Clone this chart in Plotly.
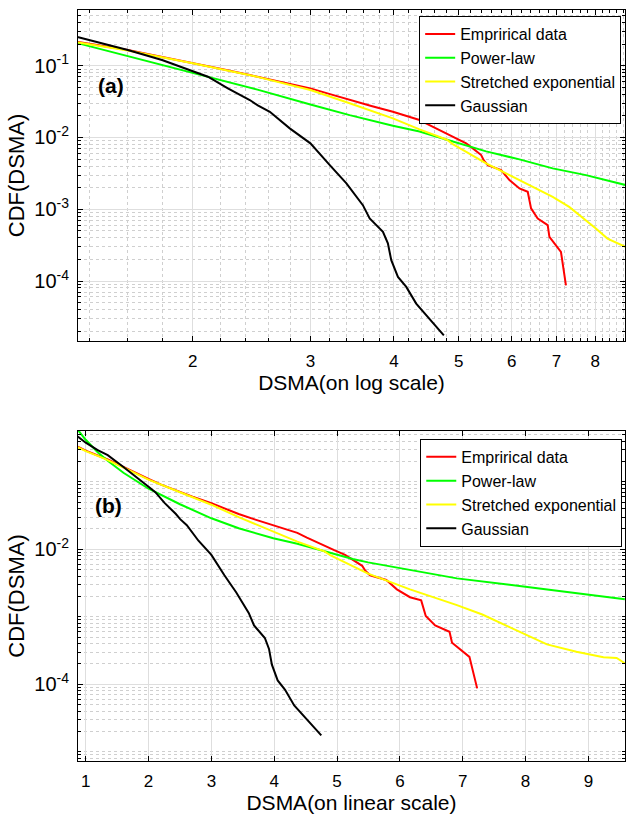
import numpy as np
import plotly.graph_objects as go
from plotly.subplots import make_subplots

# ---- data: complementary CDF of DSMA and fitted models ----
x_emp = [0.873, 1.0, 1.19, 1.35, 1.60, 1.80, 2.0, 2.2, 2.435, 2.7, 3.0, 3.2, 3.434,
         3.7, 3.985, 4.2, 4.368, 4.52, 4.733, 4.955, 5.128, 5.248, 5.40, 5.45, 5.525,
         5.784, 5.952, 6.161, 6.339, 6.412, 6.561, 6.79, 6.83, 7.107, 7.23]
y_emp = [0.331, 0.289, 0.245, 0.214, 0.166, 0.134, 0.110, 0.091, 0.0741, 0.060, 0.0483,
         0.0405, 0.0333, 0.0275, 0.0228, 0.0197, 0.0175, 0.0149, 0.0120, 0.0097, 0.00828,
         0.00705, 0.00569, 0.0048, 0.00412, 0.00351, 0.00255, 0.00195, 0.00175, 0.00103,
         0.000744, 0.00060, 0.000412, 0.000255, 0.000087]

x_pl = [0.873, 1.0, 1.19, 1.35, 1.6, 1.8, 2.0, 2.5, 3.0, 3.434, 3.985, 4.368, 4.8,
        5.25, 5.494, 6.161, 6.908, 7.745, 8.89, 9.58]
y_pl = [0.59, 0.42, 0.275, 0.205, 0.136, 0.103, 0.079, 0.0465, 0.0288, 0.0205, 0.0146,
        0.0121, 0.0093, 0.0072, 0.0064, 0.00495, 0.00371, 0.00299, 0.00217, 0.00182]

x_se = [0.873, 1.0, 1.19, 1.35, 1.6, 1.8, 2.0, 2.5, 3.0, 3.434, 3.985, 4.368, 4.8,
        4.898, 5.494, 6.161, 6.908, 7.312, 7.745, 8.015, 8.341, 8.81, 9.03, 9.24,
        9.45, 9.58]
y_se = [0.325, 0.285, 0.242, 0.21, 0.163, 0.132, 0.108, 0.070, 0.0458, 0.030, 0.01846,
        0.01297, 0.0093, 0.0081, 0.00435, 0.00255, 0.00149, 0.00108, 0.000705, 0.00054,
        0.00039, 0.000304, 0.000272, 0.000251, 0.000245, 0.000205]

x_ga = [0.873, 1.0, 1.19, 1.35, 1.6, 1.8, 2.0, 2.108, 2.258, 2.435, 2.503, 2.609, 2.794,
        3.0, 3.207, 3.396, 3.594, 3.679, 3.851, 3.917, 3.963, 4.055, 4.173, 4.318, 4.749]
y_ga = [0.47, 0.38, 0.295, 0.249, 0.166, 0.12, 0.0844, 0.0703, 0.0484, 0.0333, 0.0280,
        0.0228, 0.0134, 0.00828, 0.00412, 0.00229, 0.00114, 0.000744, 0.000485, 0.000334,
        0.000195, 0.000114, 0.0000828, 0.0000485, 0.0000175]

series = [
    ("Emprirical data", x_emp, y_emp, "#ff0000"),
    ("Power-law", x_pl, y_pl, "#00ff00"),
    ("Stretched exponential", x_se, y_se, "#ffff00"),
    ("Gaussian", x_ga, y_ga, "#000000"),
]

FONT = "Liberation Sans, Arial, Helvetica, sans-serif"
MAJOR_GRID = "#dedede"
MINOR_GRID = "#cfcfcf"

fig = make_subplots(rows=2, cols=1, vertical_spacing=0.12)
fig.update_layout(
    yaxis=dict(domain=[0.5593, 1.0]),
    yaxis2=dict(domain=[0.0, 0.4394]),
)

for row, leg in ((1, "legend"), (2, "legend2")):
    for name, xs, ys, col in series:
        fig.add_trace(
            go.Scatter(x=xs, y=ys, mode="lines", name=name,
                       line=dict(color=col, width=2), legend=leg,
                       showlegend=True),
            row=row, col=1,
        )

# log-axis minor tick positions
dec_minor = [m * 10.0 ** e for e in range(-6, 1) for m in range(1, 10)]
x_log_minor = [round(v, 1) for v in np.arange(1.2, 9.0, 0.2) if abs(v - round(v)) > 1e-6]

common = dict(showline=True, linecolor="black", linewidth=1, mirror="allticks",
              ticks="inside", ticklen=5, tickcolor="black",
              showgrid=True, gridcolor=MAJOR_GRID, gridwidth=1, zeroline=False)
xtick_font = dict(family=FONT, size=17, color="black")
ytick_font = dict(family=FONT, size=20, color="black")
xtitle_font = dict(family=FONT, size=21, color="black")
ytitle_font = dict(family=FONT, size=22, color="black")

# panel (a): log-log
fig.update_xaxes(
    type="log", range=[np.log10(1.348), np.log10(8.86)],
    tickmode="array", tickvals=[2, 3, 4, 5, 6, 7, 8],
    ticktext=["2", "3", "4", "5", "6", "7", "8"], tickfont=xtick_font,
    minor=dict(tickmode="array", tickvals=x_log_minor, ticks="inside", ticklen=3,
               tickcolor="black", showgrid=True, gridcolor=MINOR_GRID, griddash="dot"),
    title=dict(text="DSMA(on log scale)", font=xtitle_font, standoff=3),
    ticklabelstandoff=5,
    row=1, col=1, **common)
fig.update_yaxes(
    type="log", range=[np.log10(1.46e-5), np.log10(0.598)],
    tickmode="array", tickvals=[1e-4, 1e-3, 1e-2, 1e-1],
    ticktext=["10<sup>-4</sup>", "10<sup>-3</sup>", "10<sup>-2</sup>", "10<sup>-1</sup>"],
    tickfont=ytick_font,
    minor=dict(tickmode="array", tickvals=dec_minor, ticks="inside", ticklen=3,
               tickcolor="black", showgrid=True, gridcolor=MINOR_GRID, griddash="dot"),
    title=dict(text="CDF(DSMA)", font=ytitle_font, standoff=3),
    ticklabelstandoff=4,
    row=1, col=1, **common)

# panel (b): linear x, log y
fig.update_xaxes(
    type="linear", range=[0.877, 9.583],
    tickmode="array", tickvals=[1, 2, 3, 4, 5, 6, 7, 8, 9], tickfont=xtick_font,
    title=dict(text="DSMA(on linear scale)", font=xtitle_font, standoff=3),
    ticklabelstandoff=5,
    row=2, col=1, **common)
fig.update_yaxes(
    type="log", range=[np.log10(7.3e-6), np.log10(0.566)],
    tickmode="array", tickvals=[1e-4, 1e-2],
    ticktext=["10<sup>-4</sup>", "10<sup>-2</sup>"], tickfont=ytick_font,
    minor=dict(tickmode="array", tickvals=dec_minor, ticks="inside", ticklen=3,
               tickcolor="black", showgrid=True, gridcolor=MINOR_GRID, griddash="dot"),
    title=dict(text="CDF(DSMA)", font=ytitle_font, standoff=3),
    ticklabelstandoff=4,
    row=2, col=1, **common)

legend_style = dict(bgcolor="white", bordercolor="black", borderwidth=1,
                    font=dict(family=FONT, size=16, color="black"),
                    xanchor="right", yanchor="top", tracegroupgap=0,
                    itemwidth=30)

fig.update_layout(
    width=627, height=822,
    margin=dict(l=78, r=2, t=10, b=61),
    paper_bgcolor="white", plot_bgcolor="white",
    font=dict(family=FONT, color="black"),
    legend=dict(x=0.993, y=0.992, **legend_style),
    legend2=dict(x=0.995, y=0.4288, **legend_style),
    annotations=[
        dict(text="<b>(a)</b>", xref="x domain", yref="y domain", x=0.032, y=0.773,
             xanchor="left", yanchor="middle", showarrow=False,
             font=dict(family=FONT, size=21, color="black")),
        dict(text="<b>(b)</b>", xref="x2 domain", yref="y2 domain", x=0.028, y=0.773,
             xanchor="left", yanchor="middle", showarrow=False,
             font=dict(family=FONT, size=21, color="black")),
    ],
)

fig.write_html("out.html")
